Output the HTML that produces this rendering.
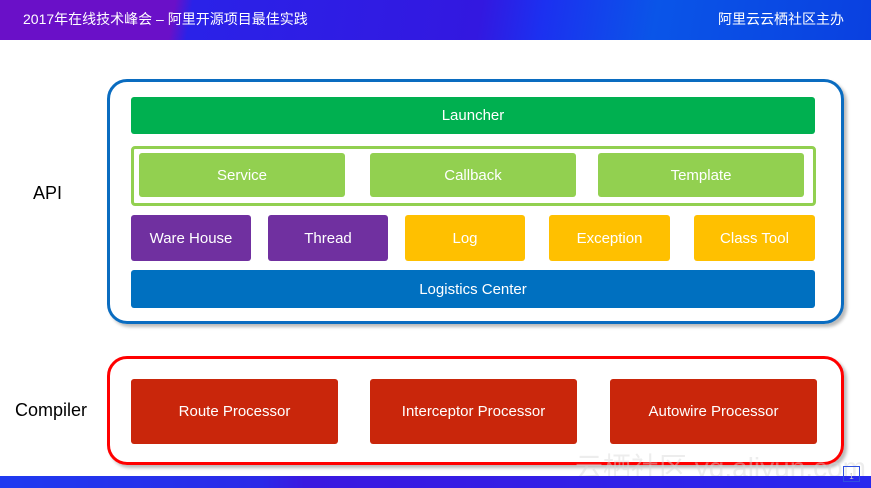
<!DOCTYPE html>
<html><head><meta charset="utf-8"><style>
*{margin:0;padding:0;box-sizing:border-box}
body{width:871px;height:488px;position:relative;background:#fff;overflow:hidden;font-family:"Liberation Sans","Noto Sans CJK SC",sans-serif}
.a{position:absolute}
.b{position:absolute;color:#fff;font-size:15px;display:flex;align-items:center;justify-content:center;border-radius:3px}
.hdr{left:0;top:0;width:871px;height:40px;background:linear-gradient(100deg,#6a10c8 0,#6a10c8 20%,#2a22e8 22%,#3318e0 55%,#1c30f0 62%,#0a55e8 75%,#0a40e0 100%)}
.ftr{left:0;top:476px;width:871px;height:12px;background:linear-gradient(90deg,#1f3af0 0,#2a2ae8 30%,#3a18e0 35%,#2828ee 100%)}
</style></head><body>
<div class="a hdr"></div>
<div class="a" style="left:23px;top:9px;color:#fff;font-size:14px;white-space:nowrap">2017年在线技术峰会 – 阿里开源项目最佳实践</div>
<div class="a" style="left:718px;top:9px;color:#fff;font-size:14px;white-space:nowrap">阿里云云栖社区主办</div>

<div class="a" style="left:33px;top:183px;font-size:18px;color:#000">API</div>
<div class="a" style="left:15px;top:400px;font-size:18px;color:#000">Compiler</div>

<div class="a" style="left:107px;top:79px;width:737px;height:245px;border:3px solid #0a6cc0;border-radius:20px;box-shadow:3px 3px 3px #bbb"></div>
<div class="b" style="left:131px;top:97px;width:684px;height:37px;background:#00b050">Launcher</div>
<div class="a" style="left:131px;top:146px;width:685px;height:60px;border:3px solid #92d050;border-radius:4px"></div>
<div class="b" style="left:139px;top:153px;width:206px;height:44px;background:#92d050">Service</div>
<div class="b" style="left:370px;top:153px;width:206px;height:44px;background:#92d050">Callback</div>
<div class="b" style="left:598px;top:153px;width:206px;height:44px;background:#92d050">Template</div>
<div class="b" style="left:131px;top:215px;width:120px;height:46px;background:#7030a0">Ware House</div>
<div class="b" style="left:268px;top:215px;width:120px;height:46px;background:#7030a0">Thread</div>
<div class="b" style="left:405px;top:215px;width:120px;height:46px;background:#ffc000">Log</div>
<div class="b" style="left:549px;top:215px;width:121px;height:46px;background:#ffc000">Exception</div>
<div class="b" style="left:694px;top:215px;width:121px;height:46px;background:#ffc000">Class Tool</div>
<div class="b" style="left:131px;top:270px;width:684px;height:38px;background:#0070c0">Logistics Center</div>

<div class="a" style="left:107px;top:356px;width:737px;height:109px;border:3px solid #f00;border-radius:20px;box-shadow:3px 3px 3px #bbb"></div>
<div class="b" style="left:131px;top:379px;width:207px;height:65px;background:#c9260b">Route Processor</div>
<div class="b" style="left:370px;top:379px;width:207px;height:65px;background:#c9260b">Interceptor Processor</div>
<div class="b" style="left:610px;top:379px;width:207px;height:65px;background:#c9260b">Autowire Processor</div>

<div class="a" style="left:575px;top:446px;font-size:28px;color:rgba(215,215,215,0.45);white-space:nowrap">云栖社区 yq.aliyun.com</div>
<div class="a ftr"></div>
<div class="a" style="left:843px;top:466px;width:17px;height:16px;border:1px solid #3050e0;font-size:8px;color:#ccc;text-align:center;line-height:20px">1</div>
</body></html>
